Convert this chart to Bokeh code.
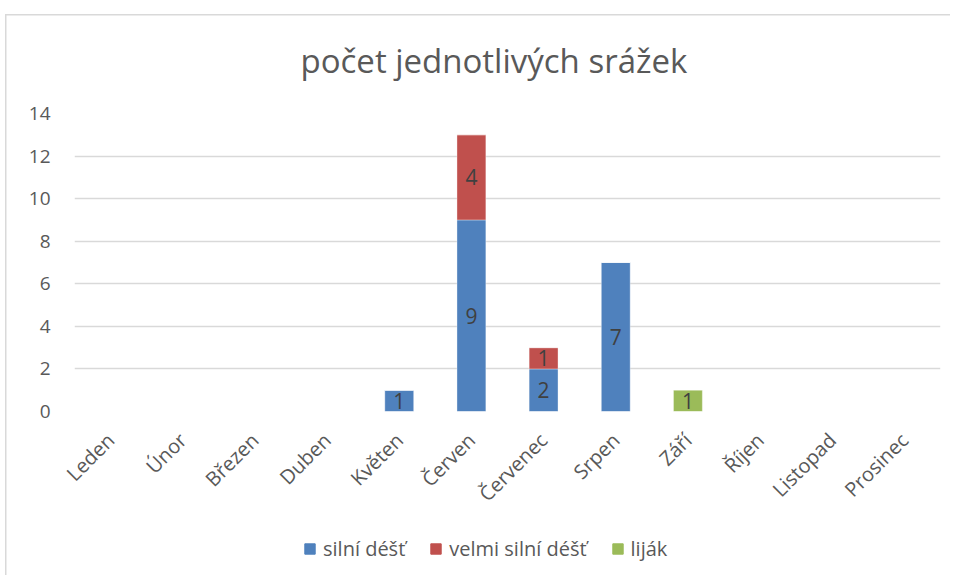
from bokeh.plotting import figure
from bokeh.layouts import column
from bokeh.models import ColumnDataSource, Range1d, FixedTicker, Legend, LegendItem, LabelSet
from bokeh.core.properties import value
from bokeh.embed import file_html
from bokeh.resources import INLINE
import math

months = ["Leden", "Únor", "Březen", "Duben", "Květen", "Červen", "Červenec",
          "Srpen", "Září", "Říjen", "Listopad", "Prosinec"]
silni_dest = [0, 0, 0, 0, 1, 9, 2, 7, 0, 0, 0, 0]
velmi_silni_dest = [0, 0, 0, 0, 0, 4, 1, 0, 0, 0, 0, 0]
lijak = [0, 0, 0, 0, 0, 0, 0, 0, 1, 0, 0, 0]
series_names = ["silní déšť", "velmi silní déšť", "liják"]
y_ticks = [0, 2, 4, 6, 8, 10, 12, 14]
title_text = "počet jednotlivých srážek"

colors = ["#4F81BD", "#C0504D", "#9BBB59"]
keys = ["s", "v", "l"]
FONT = "Open Sans"
TXT = "#595959"

src = ColumnDataSource(dict(month=months, s=silni_dest, v=velmi_silni_dest, l=lijak))

p = figure(x_range=months, y_range=Range1d(0, 14), width=950, height=522,
           output_backend="svg", toolbar_location=None,
           min_border_left=74, min_border_right=10, min_border_top=113,
           min_border_bottom=111)
p.background_fill_color = None
p.border_fill_color = None

p.title.text = title_text
p.title.align = "left"
p.title.offset = 226
p.title.text_font = FONT
p.title.text_font_size = "33px"
p.title.text_font_style = "normal"
p.title.text_color = TXT
p.title.standoff = 62

renderers = p.vbar_stack(keys, x="month", width=0.4, source=src, color=colors,
                         line_color="white", line_alpha=0.35, line_width=1)

# labels for nonzero segments
lx, ly, lt = [], [], []
for i, m in enumerate(months):
    base = 0
    for arr in (silni_dest, velmi_silni_dest, lijak):
        v = arr[i]
        if v:
            lx.append(m)
            ly.append(base + v / 2)
            lt.append(str(v))
        base += v
lsrc = ColumnDataSource(dict(x=lx, y=ly, t=lt))
p.add_layout(LabelSet(x="x", y="y", text="t", source=lsrc, text_align="center",
                      text_baseline="middle", text_font=value(FONT), text_font_size="21px",
                      text_color="#404040"))

p.xgrid.grid_line_color = None
p.ygrid.grid_line_color = "#D9D9D9"
p.ygrid.grid_line_width = 1.5
p.outline_line_color = None

p.yaxis.ticker = FixedTicker(ticks=y_ticks)
p.yaxis.axis_line_color = None
p.yaxis.major_tick_line_color = None
p.yaxis.minor_tick_line_color = None
p.yaxis.major_label_standoff = 18
p.yaxis.major_label_text_font = FONT
p.yaxis.major_label_text_font_size = "19px"
p.yaxis.major_label_text_color = TXT

p.xaxis.axis_line_color = None
p.xaxis.major_tick_line_color = None
p.xaxis.major_label_orientation = math.pi / 4
p.xaxis.major_label_standoff = 19
p.xaxis.major_label_text_font = FONT
p.xaxis.major_label_text_font_size = "20px"
p.xaxis.major_label_text_color = TXT

# legend strip below the chart (frames are aligned with the chart above)
pl = figure(width=950, height=53, output_backend="svg", toolbar_location=None,
            x_range=Range1d(0, 1), y_range=Range1d(0, 1), min_border=0)
pl.background_fill_color = None
pl.border_fill_color = None
pl.axis.visible = False
pl.grid.grid_line_color = None
pl.outline_line_color = None
dummies = [pl.vbar(x=[0.5], bottom=[-30], top=[-20], width=0.1, color=c) for c in colors]
legend = Legend(items=[LegendItem(label=n, renderers=[r]) for n, r in zip(series_names, dummies)],
                orientation="horizontal", location=(224, 8),
                glyph_width=13, glyph_height=13, label_text_font=FONT,
                label_text_font_size="20px", label_text_color=TXT,
                border_line_alpha=0, background_fill_alpha=0,
                spacing=24, label_standoff=7, margin=0, padding=5)
pl.add_layout(legend, "center")

layout = column(p, pl, spacing=0)
layout.styles = {
    "background-image": "linear-gradient(#D9D9D9, #D9D9D9), linear-gradient(#D9D9D9, #D9D9D9)",
    "background-size": "1.5px 100%, 100% 1.5px",
    "background-position": "5px 14px, 5px 14px",
    "background-repeat": "no-repeat",
}
open("out.html", "w").write(file_html(layout, INLINE))
